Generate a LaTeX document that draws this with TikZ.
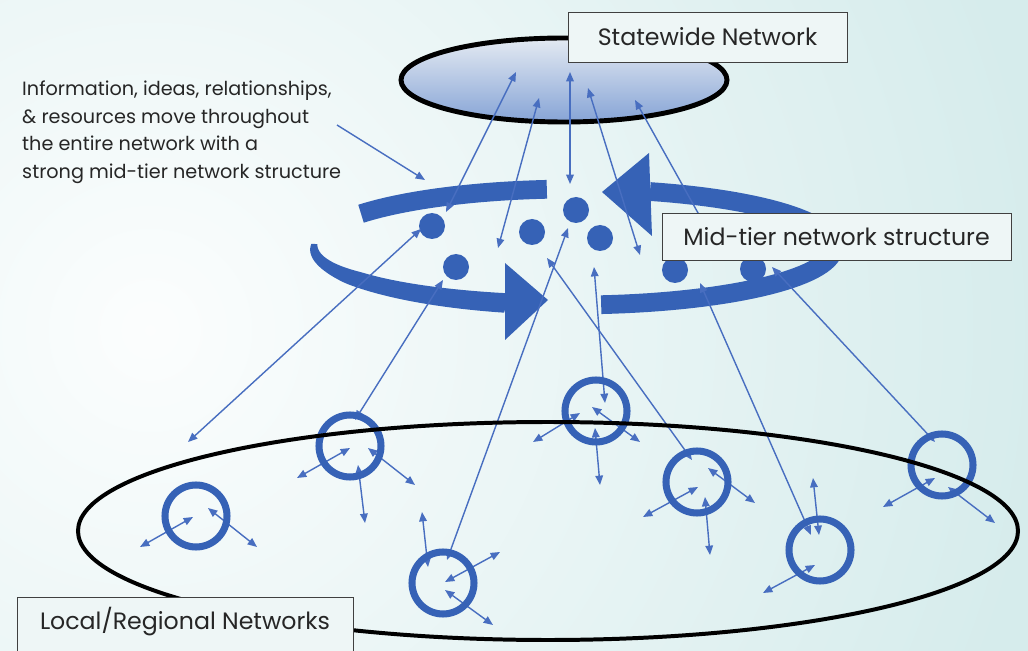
\documentclass[tikz,border=0pt]{standalone}
\usepackage{fontspec}
\setmainfont{Poppins}
\usetikzlibrary{arrows.meta}
\definecolor{bgcol}{RGB}{214,236,236}
\definecolor{bandblue}{RGB}{54,98,182}
\definecolor{linkblue}{RGB}{72,110,192}
\definecolor{boxfill}{RGB}{238,246,246}
\definecolor{topfill}{RGB}{228,234,242}
\definecolor{botfill}{RGB}{134,164,214}
\tikzset{
	link/.style={linkblue, line width=1.2pt, {Triangle[length=8pt,width=6.5pt]}-{Triangle[length=8pt,width=6.5pt]}},
	pointer/.style={linkblue, line width=1.2pt, -{Triangle[length=8pt,width=6.5pt]}},
	ring/.style={draw=bandblue, line width=6pt},
	band/.style={draw=bandblue, line width=16pt},
	tagbox/.style={draw=black!75, fill=boxfill, line width=0.8pt, text=black!85, font=\fontsize{20.2}{24}\selectfont, inner sep=0pt},
}
\begin{document}
\begin{tikzpicture}[x=0.03cm, y=-0.03cm]
				\useasboundingbox (0,0) rectangle (1028,651);
				\clip (0,0) rectangle (1028,651);
				\fill[bgcol] (0,0) rectangle (1028,651);
				\shade[inner color=white!92!bgcol, outer color=bgcol] (150,330) circle (900);
				% centres
				\coordinate (SW) at (564,80);
				\coordinate (LR) at (548,531);
				\coordinate (D1) at (432,226);
				\coordinate (D2) at (456,267);
				\coordinate (D3) at (532,232);
				\coordinate (D4) at (576,210);
				\coordinate (D5) at (600,238);
				\coordinate (D6) at (675,270);
				\coordinate (D7) at (753,269);
				\coordinate (C1) at (196,516);
				\coordinate (C2) at (350,446);
				\coordinate (C3) at (596,411);
				\coordinate (C4) at (443,583);
				\coordinate (C5) at (697,482);
				\coordinate (C6) at (820,550);
				\coordinate (C7) at (942,465);
				% ends of the long links
				\coordinate (l1a) at (516,72);   \coordinate (l1b) at (446,212);
				\coordinate (l2a) at (539,98);   \coordinate (l2b) at (498,248);
				\coordinate (l3a) at (570,72);   \coordinate (l3b) at (570,184);
				\coordinate (l4a) at (588,88);   \coordinate (l4b) at (640,255);
				\coordinate (l5a) at (635,100);  \coordinate (l5b) at (712,238);
				\coordinate (l6a) at (421,229);  \coordinate (l6b) at (188,442);
				\coordinate (l7a) at (443,280);  \coordinate (l7b) at (355,420);
				\coordinate (l8a) at (568,228);  \coordinate (l8b) at (447,560);
				\coordinate (l9a) at (547,258);  \coordinate (l9b) at (692,460);
				\coordinate (l10a) at (594,267); \coordinate (l10b) at (605,403);
				\coordinate (l11a) at (700,283); \coordinate (l11b) at (811,535);
				\coordinate (l12a) at (772,267); \coordinate (l12b) at (935,442);
				\coordinate (n1) at (337,125);   \coordinate (n2) at (425,180);
				% ends of the local links
				\coordinate (r1a) at (140,547);  \coordinate (r1b) at (193,517);
				\coordinate (r2a) at (257,547);  \coordinate (r2b) at (208,508);
				\coordinate (r3a) at (297,478);  \coordinate (r3b) at (350,448);
				\coordinate (r4a) at (415,485);  \coordinate (r4b) at (368,448);
				\coordinate (r5a) at (365,523);  \coordinate (r5b) at (358,465);
				\coordinate (r6a) at (533,442);  \coordinate (r6b) at (580,413);
				\coordinate (r7a) at (640,442);  \coordinate (r7b) at (592,407);
				\coordinate (r8a) at (600,485);  \coordinate (r8b) at (595,428);
				\coordinate (r9a) at (422,512);  \coordinate (r9b) at (428,567);
				\coordinate (r10a) at (500,552); \coordinate (r10b) at (445,582);
				\coordinate (r11a) at (493,625); \coordinate (r11b) at (445,590);
				\coordinate (r12a) at (643,517); \coordinate (r12b) at (698,487);
				\coordinate (r13a) at (755,503); \coordinate (r13b) at (708,468);
				\coordinate (r14a) at (710,555); \coordinate (r14b) at (705,497);
				\coordinate (r15a) at (813,478); \coordinate (r15b) at (819,535);
				\coordinate (r16a) at (763,593); \coordinate (r16b) at (815,565);
				\coordinate (r17a) at (883,507); \coordinate (r17b) at (935,478);
				\coordinate (r18a) at (995,523); \coordinate (r18b) at (948,487);
				% statewide tier
				\draw[line width=4.2pt, top color=topfill, bottom color=botfill] (SW) ellipse (163 and 42);
				% mid tier
				\draw[band] plot[domain=215:264, samples=30] ({574+260*cos(\x)}, {247+58*sin(\x)});
				\draw[band] plot[domain=287:444, samples=60] ({574+260*cos(\x)}, {247+58*sin(\x)});
				\fill[bandblue] plot[domain=183:105, samples=40] ({574+(263+7*min(1,(183-\x)/35))*cos(\x)}, {247+(61+7*min(1,(183-\x)/35))*sin(\x)})
					-- plot[domain=105:183, samples=40] ({574+(257-7*min(1,(183-\x)/35))*cos(\x)}, {247+(55-7*min(1,(183-\x)/35))*sin(\x)}) -- cycle;
				\fill[bandblue] (505,263) -- (548,300) -- (505,340) -- cycle;
				\fill[bandblue] (649,153) -- (602,192) -- (652,236) -- cycle;
				\fill[bandblue] (D1) circle (13) (D2) circle (13) (D3) circle (13) (D4) circle (13)
					(D5) circle (13) (D6) circle (13) (D7) circle (13);
				% links between the tiers
				\draw[link] (l1a) -- (l1b);
				\draw[link] (l2a) -- (l2b);
				\draw[link] (l3a) -- (l3b);
				\draw[link] (l4a) -- (l4b);
				\draw[link] (l5a) -- (l5b);
				\draw[link] (l6a) -- (l6b);
				\draw[link] (l7a) -- (l7b);
				\draw[link] (l8a) -- (l8b);
				\draw[link] (l9a) -- (l9b);
				\draw[link] (l10a) -- (l10b);
				\draw[link] (l11a) -- (l11b);
				\draw[link] (l12a) -- (l12b);
				\draw[pointer] (n1) -- (n2);
				% local tier
				\draw[link] (r1a) -- (r1b);   \draw[link] (r2a) -- (r2b);
				\draw[link] (r3a) -- (r3b);   \draw[link] (r4a) -- (r4b);
				\draw[link] (r5a) -- (r5b);   \draw[link] (r6a) -- (r6b);
				\draw[link] (r7a) -- (r7b);   \draw[link] (r8a) -- (r8b);
				\draw[link] (r9a) -- (r9b);   \draw[link] (r10a) -- (r10b);
				\draw[link] (r11a) -- (r11b); \draw[link] (r12a) -- (r12b);
				\draw[link] (r13a) -- (r13b); \draw[link] (r14a) -- (r14b);
				\draw[link] (r15a) -- (r15b); \draw[link] (r16a) -- (r16b);
				\draw[link] (r17a) -- (r17b); \draw[link] (r18a) -- (r18b);
				\draw[ring] (C1) circle (31) (C2) circle (31) (C3) circle (31) (C4) circle (31)
					(C5) circle (31) (C6) circle (31) (C7) circle (31);
				\draw[line width=3.4pt] (LR) ellipse (470 and 109);
				% labels
				\node[tagbox, minimum width=8.37cm, minimum height=1.5cm] (swlabel) at (707.5,37) {Statewide Network};
				\node[tagbox, minimum width=10.47cm, minimum height=1.41cm] (mtlabel) at (836.5,236.5) {Mid-tier network structure};
				\draw[draw=black!75, fill=boxfill, line width=0.8pt] (17,597) rectangle (353,690);
				\node[text=black!85, font=\fontsize{20.2}{24}\selectfont, inner sep=0pt] (lrlabel) at (185,622) {Local/Regional Networks};
				\node[anchor=north west, align=left, text=black!85, font=\fontsize{16.4}{23.4}\selectfont, inner sep=0pt] (note) at (22,81)
					{Information, ideas, relationships,\\ \& resources move throughout\\ the entire network with a\\ strong mid-tier network structure};
			\end{tikzpicture}
\end{document}
